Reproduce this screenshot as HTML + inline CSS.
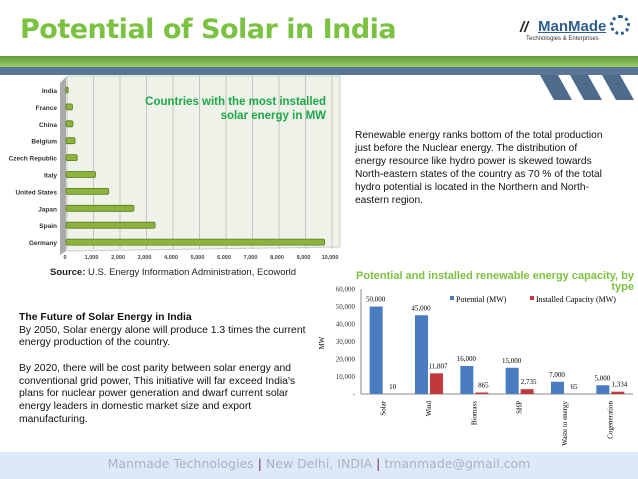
<!DOCTYPE html>
<html><head><meta charset="utf-8"><style>
body{margin:0;width:638px;height:479px;background:#fff;overflow:hidden;position:relative;font-family:"Liberation Sans",sans-serif}
.abs{position:absolute}
</style></head><body>
<div class="abs" style="left:20px;top:14px;font-size:27px;font-weight:bold;color:#7cc242;font-family:'DejaVu Sans','Liberation Sans',sans-serif;letter-spacing:-0.5px">Potential of Solar in India</div>
<div class="abs" style="left:520px;top:15px;width:110px;height:30px">
 <div style="position:absolute;left:0;top:4px;font-size:15px;font-weight:bold;font-style:italic;color:#222">//</div>
 <div style="position:absolute;left:18px;top:3px;font-size:15px;font-weight:bold;color:#2d5d8c;text-decoration:underline">ManMade</div>
 <div style="position:absolute;left:6px;top:21px;font-size:6px;color:#333">Technologies &amp; Enterprises</div>
 <div style="position:absolute;left:90px;top:0;width:14px;height:14px;border-radius:50%;border:3px dotted #2d5d8c"></div>
</div>
<div class="abs" style="left:0;top:56px;width:638px;height:11px;background:linear-gradient(#5f9a3c,#9bd06a)"></div>
<div class="abs" style="left:0;top:67px;width:638px;height:8px;background:#5b7595"></div>
<svg class="abs" style="left:540px;top:75px" width="98" height="28"><polygon points="0,0 18,0 32,25 14,25" fill="#4f6b8c"/><polygon points="30,0 48,0 62,25 44,25" fill="#4f6b8c"/><polygon points="62,0 80,0 94,25 76,25" fill="#4f6b8c"/></svg>

<svg class="abs" id="c1" style="left:0;top:75px" width="345" height="205"></svg>
<div class="abs" style="left:100px;top:95px;width:226px;text-align:right;font-size:11.5px;font-weight:bold;color:#1fa64a;line-height:14px">Countries with the most installed<br>solar energy in MW</div>
<div class="abs" style="left:50px;top:267px;font-size:9.5px;color:#222"><b>Source:</b> U.S. Energy Information Administration, Ecoworld</div>

<div class="abs" style="left:355px;top:129px;white-space:nowrap;font-size:10.2px;line-height:13px;color:#111">Renewable energy ranks bottom of the total production<br>just before the Nuclear energy. The distribution of<br>energy resource like hydro power is skewed towards<br>North-eastern states of the country as 70 % of the total<br>hydro potential is located in the Northern and North-<br>eastern region.</div>

<div class="abs" style="left:19px;top:312px;width:290px;font-size:10.4px;line-height:12.7px;color:#111"><b>The Future of Solar Energy in India</b><br>By 2050, Solar energy alone will produce 1.3 times the current energy production of the country.<br><br>By 2020, there will be cost parity between solar energy and conventional grid power, This initiative will far exceed India's plans for nuclear power generation and dwarf current solar energy leaders in domestic market size and export manufacturing.</div>

<svg class="abs" id="c2" style="left:300px;top:265px" width="338" height="190"></svg>
<div class="abs" style="left:334px;top:271px;width:300px;text-align:right;font-size:11px;font-weight:bold;color:#7cc242;line-height:11px">Potential and installed renewable energy capacity, by type</div>

<div class="abs" style="left:0;top:452px;width:638px;height:27px;background:#dbe9f8"></div>
<div class="abs" style="left:0;top:456px;width:638px;text-align:center;font-size:12.5px;color:#a9b4c3;font-family:'DejaVu Sans',sans-serif">Manmade Technologies <span style="color:#7a2a6a">|</span> New Delhi, INDIA <span style="color:#7a2a6a">|</span> tmanmade@gmail.com</div>

<script>
const countries=["India","France","China","Belgium","Czech Republic","Italy","United States","Japan","Spain","Germany"];
const installedMW=[120,280,300,380,460,1150,1650,2600,3400,9800];
const xTicks=[0,1000,2000,3000,4000,5000,6000,7000,8000,9000,10000];

const types=["Solar","Wind","Biomass","SHP","Waste to energy","Cogeneration"];
const potential=[50000,45000,16000,15000,7000,5000];
const installed=[10,11807,865,2735,65,1334];
const potLabels=["50,000","45,000","16,000","15,000","7,000","5,000"];
const instLabels=["10","11,807","865","2,735","65","1,334"];
const yTicks=[0,10000,20000,30000,40000,50000,60000];

const NS="http://www.w3.org/2000/svg";
function mk(svg,t,a,txt){const e=document.createElementNS(NS,t);for(const k in a)e.setAttribute(k,a[k]);if(txt!==undefined)e.textContent=txt;svg.appendChild(e);return e;}

// chart 1
const s1=document.getElementById('c1');
const x1=v=>65+v*(330-65)/10000;
const yc=i=>15+i*16.9;
mk(s1,'polygon',{points:"64,5 68,1 340,1 340,172 64,176",fill:"#eef2e8",stroke:"#ccc"});
mk(s1,'polygon',{points:"60,8 66,2 66,176 60,180",fill:"#aaa"});
xTicks.forEach(t=>{
 const g=mk(s1,'line',{x1:x1(t)+2,x2:x1(t)+2,y1:1,y2:174,stroke:"#bbb","stroke-width":0.8});
 
 const l=mk(s1,'text',{x:x1(t),y:184,"font-size":5.5,"font-weight":"bold","text-anchor":"middle",fill:"#444"},t.toLocaleString('en-US'));
 
});
countries.forEach((c,i)=>{
 const l=mk(s1,'text',{x:57,y:yc(i)+3,"font-size":6.5,"font-weight":"bold","text-anchor":"end",fill:"#333"},c);
 
 const b=mk(s1,'rect',{x:66,y:yc(i)-3,width:x1(installedMW[i])-66,height:6,fill:"#8cb43c",stroke:"#5a7a22","stroke-width":0.8,rx:1.5});
 
});

// chart 2
const s2=document.getElementById('c2');
const y2=v=>129-v*(129-24)/60000;
const cw=(333-61)/6;
mk(s2,'line',{x1:61,x2:333,y1:129,y2:129,stroke:"#888"});
mk(s2,'line',{x1:61,x2:61,y1:24,y2:129,stroke:"#888"});
mk(s2,'text',{x:24,y:78,"font-size":7,"font-family":"Liberation Serif","text-anchor":"middle",transform:"rotate(-90 24 78)"},"MW");
yTicks.forEach(t=>{
 const l=mk(s2,'text',{x:55,y:y2(t)+2.5,"font-size":7,"font-family":"Liberation Serif","text-anchor":"end",fill:"#333"},t===0?"-":t.toLocaleString('en-US'));
 
});
mk(s2,'rect',{x:150,y:31,width:4,height:4,fill:"#4a7cc2"});
mk(s2,'text',{x:156,y:37,"font-size":8,"font-family":"Liberation Serif"},"Potential (MW)");
mk(s2,'rect',{x:230,y:31,width:4,height:4,fill:"#c0393b"});
mk(s2,'text',{x:236,y:37,"font-size":8,"font-family":"Liberation Serif"},"Installed Capacity (MW)");
types.forEach((t,i)=>{
 const cx=61+cw*i+cw/2;
 const b1=mk(s2,'rect',{x:cx-14,y:y2(potential[i]),width:13,height:129-y2(potential[i]),fill:"#4a7cc2"});
 
 const b2=mk(s2,'rect',{x:cx+1,y:y2(installed[i]),width:13,height:129-y2(installed[i]),fill:"#c0393b"});
 
 mk(s2,'text',{x:cx-8,y:y2(potential[i])-5,"font-size":7,"font-family":"Liberation Serif","text-anchor":"middle"},potLabels[i]);
 mk(s2,'text',{x:cx+9,y:y2(installed[i])-5,"font-size":7,"font-family":"Liberation Serif","text-anchor":"middle"},instLabels[i]);
 const l=mk(s2,'text',{x:cx,y:136,"font-size":7,"font-family":"Liberation Serif","text-anchor":"end",transform:`rotate(-90 ${cx} 136)`,dy:2},t);
 
});
</script>
</body></html>
